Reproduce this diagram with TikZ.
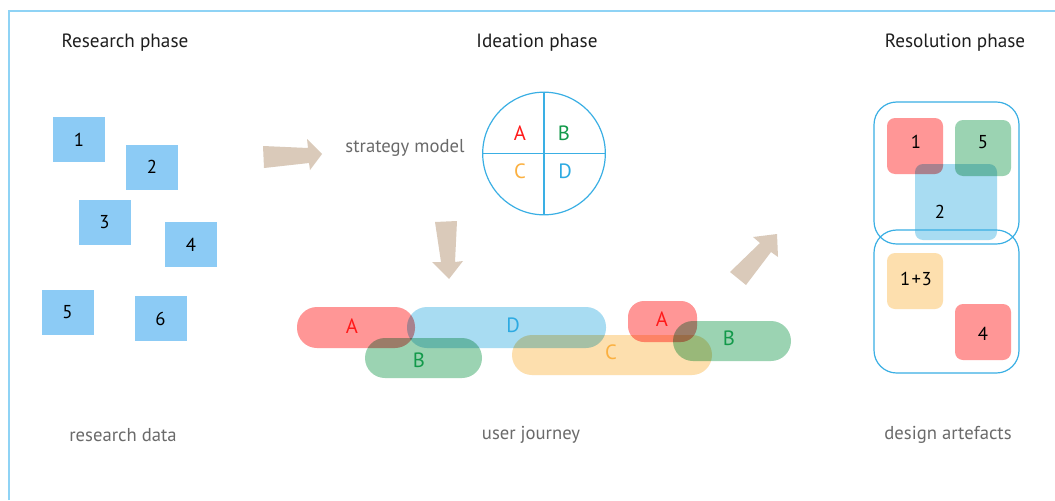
\documentclass[tikz,border=0pt]{standalone}
\usepackage{fontspec}
\setmainfont{PT Sans}
\begin{document}
\begin{tikzpicture}[x=0.75pt,y=-0.75pt,
  frameblue/.style={draw=framec, line width=1.1pt},
  rsq/.style={fill=sqblue, minimum width=39pt, minimum height=33.75pt, inner sep=0pt, font=\fontsize{14}{16}\selectfont},
  pill/.style={rounded corners=15pt, minimum height=30.75pt, inner sep=0pt, blend mode=multiply},
  rsquare/.style={rounded corners=6pt, minimum width=42pt, minimum height=42pt, inner sep=0pt, blend mode=multiply},
  lab/.style={font=\fontsize{15.5}{17}\selectfont},
  num/.style={font=\fontsize{14}{16}\selectfont},
  heading/.style={font=\fontsize{14.4}{17}\selectfont, text=headc},
  caption/.style={font=\fontsize{14}{16}\selectfont, text=capc},
  beige/.style={fill=arrowc, draw=none},
  outline/.style={draw=circc, line width=0.9pt, rounded corners=17pt, fill=none}
]
\definecolor{framec}{HTML}{8FD3F5}
\definecolor{sqblue}{HTML}{8CCBF5}
\definecolor{headc}{HTML}{1E1E1E}
\definecolor{capc}{HTML}{6A6A6A}
\definecolor{arrowc}{HTML}{DACABA}
\definecolor{circc}{HTML}{3AAFE4}
\definecolor{pred}{HTML}{FF9696}
\definecolor{pblue}{HTML}{A8DCF2}
\definecolor{pgreen}{HTML}{9BD3B2}
\definecolor{porange}{HTML}{FDDFAE}
\definecolor{tred}{HTML}{FF1A1A}
\definecolor{tgreen}{HTML}{12994A}
\definecolor{torange}{HTML}{FBB040}
\definecolor{tblue}{HTML}{2DAAE2}

\useasboundingbox (0,0) rectangle (1055,500);
\fill[white] (0,0) rectangle (1055,500);

% frame
\coordinate (fa) at (9,500);
\coordinate (fb) at (9,11);
\coordinate (fc) at (1055,11);
\draw[frameblue] (fa) -- (fb) -- (fc);

% headings
\node[heading] (h1) at (125,43) {Research phase};
\node[heading] (h2) at (537,43) {Ideation phase};
\node[heading] (h3) at (955,43) {Resolution phase};

% captions
\node[caption] (c1) at (123,435) {research data};
\node[caption] (c2) at (531,435) {user journey};
\node[caption] (c3) at (948,435) {design artefacts};

% research squares
\node[rsq] (s1) at (79,139.5) {1};
\node[rsq] (s2) at (152,167) {2};
\node[rsq] (s3) at (104.5,222.5) {3};
\node[rsq] (s4) at (191,244.5) {4};
\node[rsq] (s5) at (67.5,312.5) {5};
\node[rsq] (s6) at (160.5,318.5) {6};

% arrows
\fill[beige] (263,146) -- (308,148) -- (307,139) -- (322,154) -- (310,170) -- (309,163) -- (264,168) -- cycle;
\fill[beige] (435,222) -- (457,221) -- (455,262) -- (463,261) -- (449,279) -- (432,262) -- (441,262) -- cycle;
\fill[beige] (730,272) -- (760,243) -- (753,237) -- (777,234) -- (778,257) -- (771,252) -- (746,285) -- cycle;

% strategy model
\node[caption] (sm) at (405,148) {strategy model};
\node[draw=circc, line width=0.9pt, circle, minimum size=92pt, inner sep=0pt] (circ) at (544,153.5) {};
\draw[draw=circc, line width=0.9pt] (circ.north) -- (circ.south);
\draw[draw=circc, line width=0.9pt] (circ.west) -- (circ.east);
\node[lab, text=tred] (ca) at (520,133) {A};
\node[lab, text=tgreen] (cb) at (564,133) {B};
\node[lab, text=torange] (cc) at (520,171) {C};
\node[lab, text=tblue] (cd) at (565,171) {D};

% user journey pills
\node[pill, fill=pred, minimum width=88.5pt] (pa) at (356,327.5) {};
\node[pill, fill=pblue, minimum width=149.25pt] (pd) at (506.5,327.5) {};
\node[pill, fill=pgreen, minimum width=87.75pt, minimum height=30pt] (pb) at (423.5,358) {};
\node[pill, fill=porange, minimum width=150pt, minimum height=30pt, rounded corners=15pt] (pc) at (612,355) {};
\node[pill, fill=pred, minimum width=51.75pt, rounded corners=12pt] (pa2) at (662.5,321.5) {};
\node[pill, fill=pgreen, minimum width=88.5pt, minimum height=30pt] (pb2) at (732,341) {};
\node[lab, text=tred] (la) at (352,326) {A};
\node[lab, text=tblue] (ld) at (513,325) {D};
\node[lab, text=tgreen] (lb) at (419,360) {B};
\node[lab, text=torange] (lc) at (611,352) {C};
\node[lab, text=tred] (la2) at (662,319) {A};
\node[lab, text=tgreen] (lb2) at (729,338) {B};

% resolution
\node[rsquare, fill=pred] (r1) at (915,146) {};
\node[rsquare, fill=pgreen] (r5) at (983,148) {};
\node[rsquare, fill=pblue, minimum width=61.5pt, minimum height=57pt] (r2) at (956,202) {};
\node[rsquare, fill=porange] (r13) at (915,281) {};
\node[rsquare, fill=pred] (r4) at (983,332) {};
\node[num] (n1) at (916,142) {1};
\node[num] (n5) at (983,142) {5};
\node[num] (n2) at (940,212) {2};
\node[num] (n13) at (916,279) {1\kern1pt+\kern0.5pt3};
\node[num] (n4) at (983,334) {4};
\coordinate (ob1) at (874,102);
\coordinate (ob2) at (1019,244);
\coordinate (ob3) at (874,230);
\coordinate (ob4) at (1019,373);
\draw[outline] (ob1) rectangle (ob2);
\draw[outline] (ob3) rectangle (ob4);
\end{tikzpicture}
\end{document}
